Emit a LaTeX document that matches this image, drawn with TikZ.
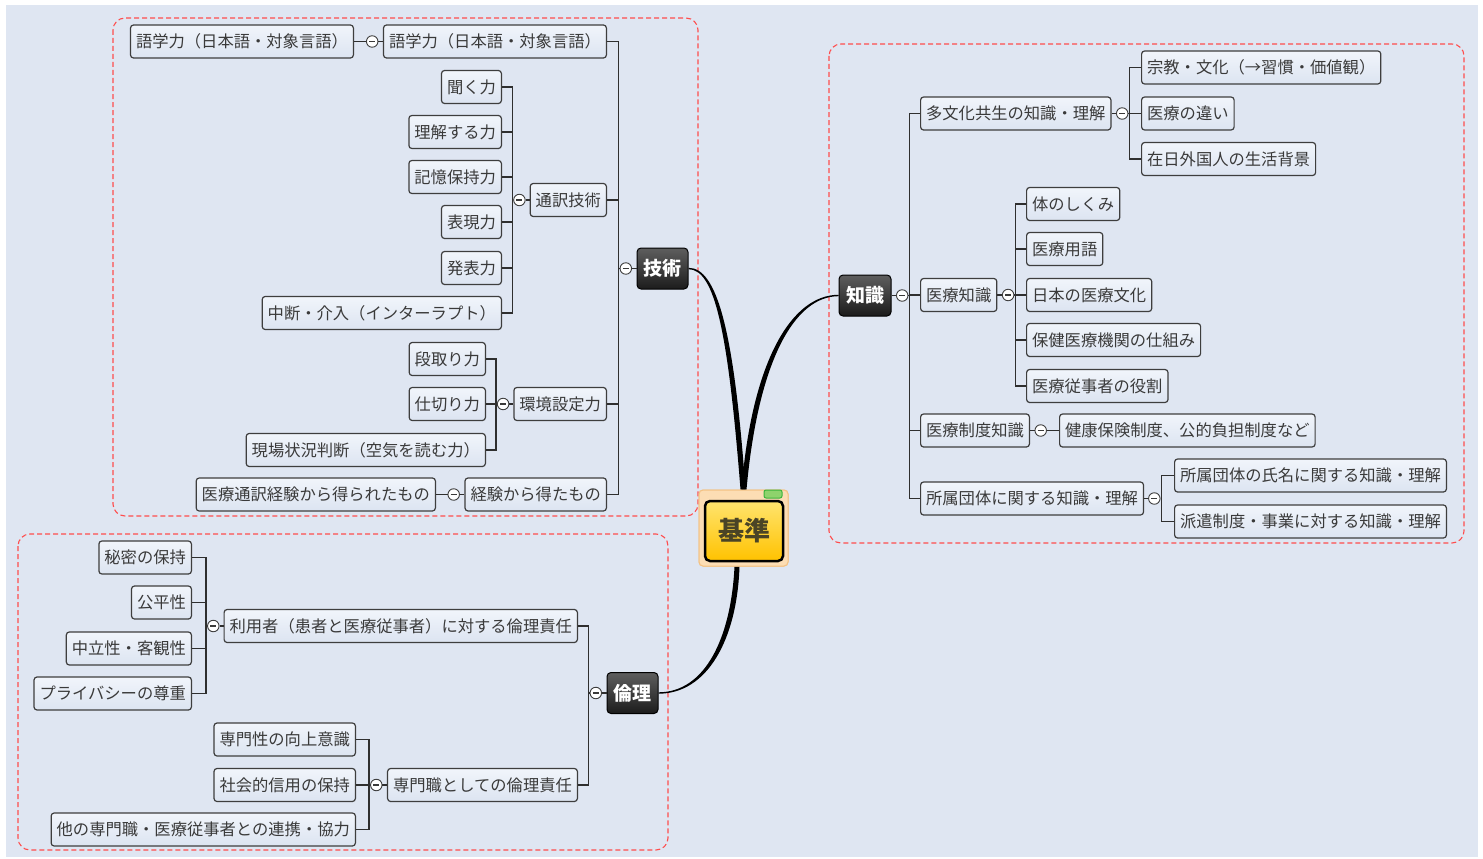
\documentclass[tikz,border=0pt]{standalone}
\usepackage{fontspec}
\setmainfont{Noto Sans CJK JP}
\usepackage{tikz}
\usetikzlibrary{positioning, calc}

\definecolor{bgblue}{HTML}{DFE6F2}
\definecolor{leaftop}{HTML}{F1F5FB}
\definecolor{leafbot}{HTML}{DCE4F1}
\definecolor{leafline}{HTML}{3E3E3E}
\definecolor{leaftext}{HTML}{3A3A3A}
\definecolor{topictop}{HTML}{5E5E5E}
\definecolor{topicbot}{HTML}{1C1C1C}
\definecolor{groupred}{HTML}{FF4D4D}
\definecolor{linkgray}{HTML}{2F2F2F}
\definecolor{rootframe}{HTML}{FCDDB4}
\definecolor{rootedge}{HTML}{F4C283}
\definecolor{roottop}{HTML}{FFE46E}
\definecolor{rootbot}{HTML}{FFC200}
\definecolor{roottext}{HTML}{4A4426}
\definecolor{tabgreen}{HTML}{8ED36C}
\definecolor{tabedge}{HTML}{3CB43C}

\tikzset{
  leaf/.style={draw=leafline, line width=1.2pt, rounded corners=3pt, top color=leaftop, bottom color=leafbot,
    text=leaftext, font=\fontsize{16.3}{18}\selectfont, inner xsep=5.5pt, inner ysep=0pt,
    text height=13.5pt, text depth=1.5pt, minimum height=33pt},
  topic/.style={draw=black, line width=1pt, rounded corners=4pt, top color=topictop, bottom color=topicbot,
    text=white, font=\fontsize{19}{22}\selectfont\bfseries, inner xsep=6.5pt, inner ysep=0pt,
    text height=16pt, text depth=2pt, minimum height=41pt},
  fold/.style={circle, draw=leafline, line width=0.9pt, fill=white, minimum size=11.5pt, inner sep=0pt,
    path picture={\draw[line width=1.5pt, leaftext] ([xshift=-3pt]path picture bounding box.center) -- ([xshift=3pt]path picture bounding box.center);}},
  link/.style={draw=linkgray, line width=1.3pt},
  group/.style={draw=groupred, line width=1.1pt, dash pattern=on 5pt off 3pt, rounded corners=12pt},
}

\begin{document}
\begin{tikzpicture}[x=1pt, y=-1pt]
    % Background
    \fill[white] (0,0) rectangle (1483,859);
    \fill[bgblue] (6,5) rectangle (1478,857);
    \useasboundingbox (0,0) rectangle (1483,859);

    % Dashed group frames
    \draw[group] (113,18) rectangle (698,516);
    \draw[group] (829,44) rectangle (1464,543);
    \draw[group] (18,534) rectangle (668,850);

    % Main topics
    \node[topic, minimum width=51pt] (tech) at (662.5,268.5) {技術};
    \node[topic, minimum width=52pt] (know) at (865,295.5) {知識};
    \node[topic, minimum width=51pt] (ethic) at (632.5,693) {倫理};

    % Root frame behind
    \node[draw=rootedge, fill=rootframe, line width=1pt, rounded corners=4pt, minimum width=89pt, minimum height=76pt] (frame) at (743.5,528) {};

    % Thick curves to the root
    \fill[black] ([yshift=0.7pt]tech.east) .. controls (717,267.8) and (734,330) .. ([xshift=2pt]frame.north)
        -- ([xshift=-3pt]frame.north) .. controls (728,332) and (715,269.2) .. ([yshift=-0.7pt]tech.east) -- cycle;
    \fill[black] ([yshift=0.7pt]know.west) .. controls (792,294.8) and (752,360) .. ([xshift=-2pt]frame.north)
        -- ([xshift=3pt]frame.north) .. controls (758,362) and (794,296.2) .. ([yshift=-0.7pt]know.west) -- cycle;
    \fill[black] ([yshift=-0.7pt]ethic.east) .. controls (707,693.7) and (737,640) .. ([xshift=-4pt]frame.south)
        -- ([xshift=-9pt]frame.south) .. controls (731,638) and (705,692.3) .. ([yshift=0.7pt]ethic.east) -- cycle;

    % Root
    \node[draw=rootedge, fill=rootframe, line width=1pt, rounded corners=4pt, minimum width=89pt, minimum height=76pt] at (frame) {};
    \node[draw=black, line width=2.5pt, rounded corners=5pt, top color=roottop, bottom color=rootbot, text=roottext,
        font=\fontsize{26}{30}\selectfont\bfseries, inner sep=0pt, minimum width=78pt, minimum height=60pt] (root) at (744,531) {基準};
    \node[draw=tabedge, fill=tabgreen, line width=1pt, rounded corners=2pt, minimum width=18pt, minimum height=8pt, inner sep=0pt] (tab) at (773,494) {};

    % ---- 技術 ----
    \node[leaf, anchor=east] (lang) at (607,41.5) {語学力（日本語・対象言語）};
    \node[leaf, anchor=east] (interp) at (607,200) {通訳技術};
    \node[leaf, anchor=east] (env) at (607,404) {環境設定力};
    \node[leaf, anchor=east] (exp) at (607,494.5) {経験から得たもの};

    \node[leaf, anchor=east] (langsub) at (354,41.5) {語学力（日本語・対象言語）};

    \node[leaf, anchor=east] (listen) at (502,87) {聞く力};
    \node[leaf, anchor=east] (understand) at (502,132) {理解する力};
    \node[leaf, anchor=east] (memory) at (502,177) {記憶保持力};
    \node[leaf, anchor=east] (express) at (502,222) {表現力};
    \node[leaf, anchor=east] (present) at (502,268) {発表力};
    \node[leaf, anchor=east] (interrupt) at (502,313) {中断・介入（インターラプト）};

    \node[leaf, anchor=east] (plan) at (486,359) {段取り力};
    \node[leaf, anchor=east] (manage) at (486,404) {仕切り力};
    \node[leaf, anchor=east] (situation) at (486,450) {現場状況判断（空気を読む力）};

    \node[leaf, anchor=east] (medexp) at (436,494.5) {医療通訳経験から得られたもの};

    % ---- 知識 ----
    \node[leaf, anchor=west] (culture) at (920,113.5) {多文化共生の知識・理解};
    \node[leaf, anchor=west] (medknow) at (920,295) {医療知識};
    \node[leaf, anchor=west] (system) at (920,430.5) {医療制度知識};
    \node[leaf, anchor=west] (org) at (920,498.5) {所属団体に関する知識・理解};

    \node[leaf, anchor=west] (religion) at (1141,67.5) {宗教・文化（→習慣・価値観）};
    \node[leaf, anchor=west] (meddiff) at (1141,113.5) {医療の違い};
    \node[leaf, anchor=west] (life) at (1141,159) {在日外国人の生活背景};

    \node[leaf, anchor=west] (body) at (1026,204) {体のしくみ};
    \node[leaf, anchor=west] (terms) at (1026,249) {医療用語};
    \node[leaf, anchor=west] (jpculture) at (1026,295) {日本の医療文化};
    \node[leaf, anchor=west] (facility) at (1026,340) {保健医療機関の仕組み};
    \node[leaf, anchor=west] (staff) at (1026,386) {医療従事者の役割};

    \node[leaf, anchor=west] (insurance) at (1059,430.5) {健康保険制度、公的負担制度など};

    \node[leaf, anchor=west] (orgname) at (1174,475.5) {所属団体の氏名に関する知識・理解};
    \node[leaf, anchor=west] (dispatch) at (1174,521.5) {派遣制度・事業に対する知識・理解};

    % ---- 倫理 ----
    \node[leaf, anchor=east] (user) at (578,626) {利用者（患者と医療従事者）に対する倫理責任};
    \node[leaf, anchor=east] (prof) at (578,785) {専門職としての倫理責任};

    \node[leaf, anchor=east] (secret) at (192,557.5) {秘密の保持};
    \node[leaf, anchor=east] (fair) at (192,602.5) {公平性};
    \node[leaf, anchor=east] (neutral) at (192,648.5) {中立性・客観性};
    \node[leaf, anchor=east] (privacy) at (192,693.5) {プライバシーの尊重};

    \node[leaf, anchor=east] (improve) at (356,739.5) {専門性の向上意識};
    \node[leaf, anchor=east] (trust) at (356,785) {社会的信用の保持};
    \node[leaf, anchor=east] (collab) at (356,829.5) {他の専門職・医療従事者との連携・協力};

    % Fold markers
    \node[fold, left=4.5pt of tech] (ftech) {};
    \node[fold, left=4.5pt of lang] (flang) {};
    \node[fold, left=4pt of interp] (finterp) {};
    \node[fold, left=4pt of env] (fenv) {};
    \node[fold, left=4.5pt of exp] (fexp) {};
    \node[fold, right=4.5pt of know] (fknow) {};
    \node[fold, right=4.5pt of culture] (fculture) {};
    \node[fold, right=4.5pt of medknow] (fmedknow) {};
    \node[fold, right=4.5pt of system] (fsystem) {};
    \node[fold, right=4pt of org] (forg) {};
    \node[fold, left=4.5pt of ethic] (fethic) {};
    \node[fold, left=4pt of user] (fuser) {};
    \node[fold, left=4.5pt of prof] (fprof) {};

    % Brackets, left side
    \foreach \p/\f/\kids in {tech/ftech/{lang,interp,env,exp}, lang/flang/{langsub},
        interp/finterp/{listen,understand,memory,express,present,interrupt},
        env/fenv/{plan,manage,situation}, exp/fexp/{medexp},
        ethic/fethic/{user,prof}, user/fuser/{secret,fair,neutral,privacy},
        prof/fprof/{improve,trust,collab}} {
        \draw[link] (\f.east) -- (\p.west);
        \foreach \c in \kids
            \draw[link] (\c.east) -| ([xshift=-1pt]\f.west) -- (\f.west);
    }

    % Brackets, right side
    \foreach \p/\f/\kids in {know/fknow/{culture,medknow,system,org},
        culture/fculture/{religion,meddiff,life},
        medknow/fmedknow/{body,terms,jpculture,facility,staff},
        system/fsystem/{insurance}, org/forg/{orgname,dispatch}} {
        \draw[link] (\p.east) -- (\f.west);
        \foreach \c in \kids
            \draw[link] (\c.west) -| ([xshift=1pt]\f.east) -- (\f.east);
    }
\end{tikzpicture}
\end{document}
